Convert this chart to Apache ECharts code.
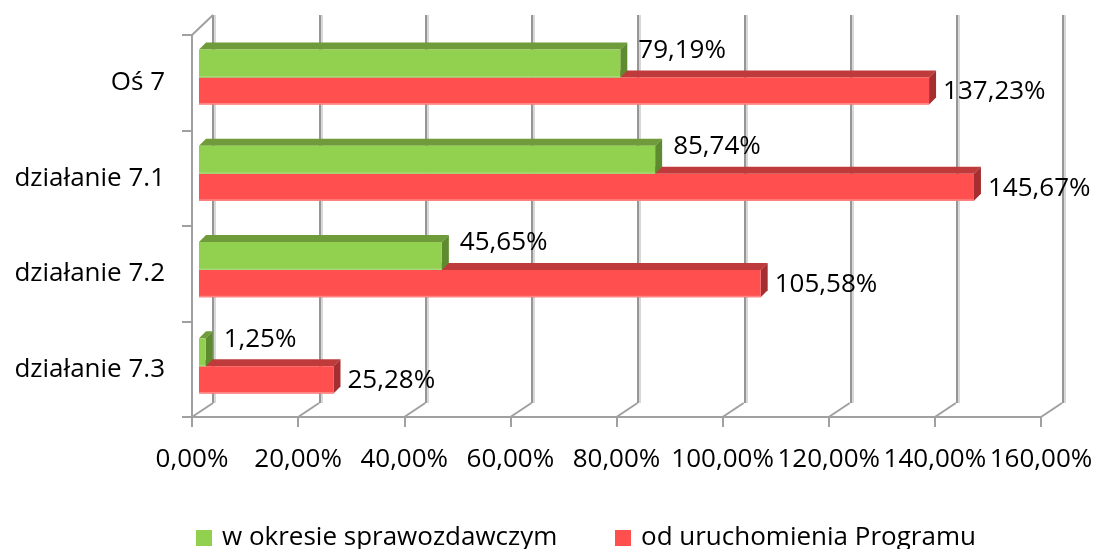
<!DOCTYPE html>
<html>
<head>
<meta charset="utf-8">
<script src="https://cdn.jsdelivr.net/npm/echarts@6/dist/echarts.min.js"></script>
<style>
  html, body { margin: 0; padding: 0; background: #fff; }
  #chart { width: 1098px; height: 549px; }
</style>
</head>
<body>
<div id="chart"></div>
<script>
// dane wykresu
const categories = ['Oś 7', 'działanie 7.1', 'działanie 7.2', 'działanie 7.3']
const okresSprawozdawczy = [79.19, 85.74, 45.65, 1.25]
const odUruchomienia = [137.23, 145.67, 105.58, 25.28]
const xTicks = [0, 20, 40, 60, 80, 100, 120, 140, 160]
const seriesNames = ['w okresie sprawozdawczym', 'od uruchomienia Programu']

const FONT = '"Open Sans", sans-serif'
const pct = (v) => v.toFixed(2).replace('.', ',') + '%'

// 1. kontener i instancja
const mChart = echarts.init(document.getElementById('chart'))

// słupek 3D: przód, góra i bok
const DEPTH = 7
function bar3d (from, to, colors, labelDx, labelFy) {
  return function (params, api) {
    const cat = api.value(1)
    const start = api.coord([0, cat])
    const end = api.coord([api.value(0), cat])
    const band = api.size([0, 1])[1]
    const bs = start[1] - band / 2
    const x0 = start[0]
    const x1 = end[0]
    const y0 = bs + band * from
    const y1 = bs + band * to
    return {
      type: 'group',
      children: [
        {
          type: 'polygon',
          shape: { points: [[x0, y0], [x0 + DEPTH, y0 - DEPTH], [x1 + DEPTH, y0 - DEPTH], [x1, y0]] },
          style: { fill: colors.top }
        },
        {
          type: 'polygon',
          shape: { points: [[x1, y0], [x1 + DEPTH, y0 - DEPTH], [x1 + DEPTH, y1 - DEPTH], [x1, y1]] },
          style: { fill: colors.side }
        },
        {
          type: 'rect',
          shape: { x: x0, y: y0, width: x1 - x0, height: y1 - y0 },
          style: { fill: colors.front }
        },
        {
          type: 'rect',
          shape: { x: x0, y: y1 - 1.5, width: x1 - x0, height: 1.5 },
          style: { fill: colors.edge }
        },
        {
          type: 'text',
          style: {
            text: pct(api.value(0)),
            x: x1 + labelDx,
            y: bs + band * labelFy,
            verticalAlign: 'middle',
            font: '26px ' + FONT,
            fill: '#000'
          }
        }
      ]
    }
  }
}

// linie podłogi i lewej ściany
function frame (params, api) {
  const cs = params.coordSys
  const p = api.coord([api.value(0), 0])
  const bottom = cs.y + cs.height
  const lines = [{
    type: 'line',
    shape: { x1: p[0], y1: bottom, x2: p[0] + 21, y2: bottom - 14 },
    style: { stroke: '#a0a0a0', lineWidth: 2 }
  }]
  if (params.dataIndex === 0) {
    lines.push({
      type: 'line',
      shape: { x1: cs.x, y1: cs.y, x2: cs.x + 21, y2: cs.y - 20 },
      style: { stroke: '#a0a0a0', lineWidth: 2 }
    })
  }
  return { type: 'group', children: lines }
}

const options = {
  animation: false,
  legend: [
    {
      data: [seriesNames[0]],
      left: 191,
      top: 520,
      icon: 'rect',
      itemWidth: 16,
      itemHeight: 16,
      textStyle: { fontFamily: FONT, fontSize: 26, color: '#000', padding: [0, 0, 0, 5] }
    },
    {
      data: [seriesNames[1]],
      left: 610,
      top: 520,
      icon: 'rect',
      itemWidth: 16,
      itemHeight: 16,
      textStyle: { fontFamily: FONT, fontSize: 26, color: '#000', padding: [0, 0, 0, 5] }
    }
  ],
  grid: [
    // tylna ściana
    { left: 213, right: 35, top: 15, bottom: 146 },
    // przednie osie
    { left: 192, right: 57, top: 35, bottom: 132 },
    // słupki
    { left: 199, right: 47.8, top: 35, bottom: 128.8 }
  ],
  xAxis: [
    {
      gridIndex: 0, type: 'value', min: 0, max: 160, interval: 20,
      axisLine: { show: false }, axisTick: { show: false }, axisLabel: { show: false },
      splitLine: { show: true, lineStyle: { color: '#969696', width: 2, shadowColor: '#d8d8d8', shadowOffsetX: 2 } }
    },
    {
      gridIndex: 1, type: 'value', min: 0, max: 160, interval: 20,
      axisLine: { show: true, lineStyle: { color: '#a0a0a0', width: 2 } },
      axisTick: { show: true, length: 10, lineStyle: { color: '#a0a0a0', width: 2 } },
      axisLabel: { margin: 30, color: '#000', fontFamily: FONT, fontSize: 26, formatter: pct },
      splitLine: { show: false }
    },
    { gridIndex: 2, type: 'value', min: 0, max: 160, show: false }
  ],
  yAxis: [
    { gridIndex: 0, type: 'category', data: categories, inverse: true, show: false },
    {
      gridIndex: 1, type: 'category', data: categories, inverse: true,
      axisLine: { show: true, lineStyle: { color: '#a0a0a0', width: 2 } },
      axisTick: { show: true, length: 10, lineStyle: { color: '#a0a0a0', width: 2 } },
      axisLabel: { margin: 27, color: '#000', fontFamily: FONT, fontSize: 26 }
    },
    { gridIndex: 2, type: 'category', data: categories, inverse: true, show: false }
  ],
  series: [
    {
      type: 'custom',
      xAxisIndex: 1,
      yAxisIndex: 1,
      silent: true,
      renderItem: frame,
      data: xTicks.map((v) => [v])
    },
    {
      name: seriesNames[1],
      type: 'custom',
      xAxisIndex: 2,
      yAxisIndex: 2,
      itemStyle: { color: '#ff4f4f' },
      renderItem: bar3d(0.441, 0.722, { front: '#ff4f4f', top: '#be3a3b', side: '#a52f30', edge: '#ff8585' }, 14, 0.59),
      data: odUruchomienia.map((v, i) => [v, i])
    },
    {
      name: seriesNames[0],
      type: 'custom',
      xAxisIndex: 2,
      yAxisIndex: 2,
      itemStyle: { color: '#92d050' },
      renderItem: bar3d(0.15, 0.441, { front: '#92d050', top: '#6f9b3b', side: '#5e8b2f', edge: '#a6d877' }, 18, 0.16),
      data: okresSprawozdawczy.map((v, i) => [v, i])
    }
  ]
}

mChart.setOption(options)
</script>
</body>
</html>
